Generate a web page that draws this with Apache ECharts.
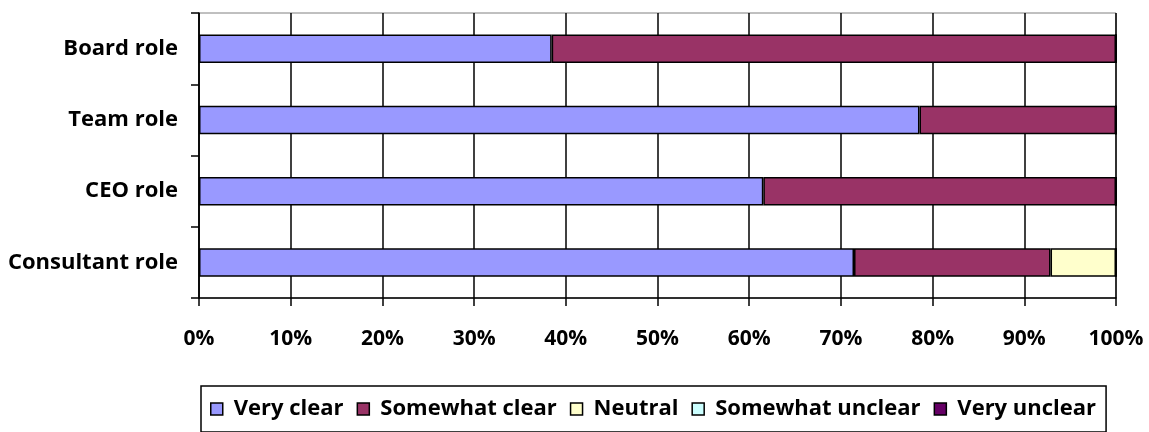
<!DOCTYPE html>
<html><head><meta charset="utf-8">
<script src="https://cdn.jsdelivr.net/npm/echarts@6/dist/echarts.min.js"></script>
<style>html,body{margin:0;padding:0;background:#fff}#c{width:1149px;height:432px}</style>
</head><body><div id="c"></div>
<script>
const categories = ['Consultant role', 'CEO role', 'Team role', 'Board role'];
const veryClear = [71.43, 61.54, 78.57, 38.46];
const somewhatClear = [21.43, 38.46, 21.43, 61.54];
const neutral = [7.14, 0, 0, 0];
const somewhatUnclear = [0, 0, 0, 0];
const veryUnclear = [0, 0, 0, 0];
const seriesNames = ['Very clear', 'Somewhat clear', 'Neutral', 'Somewhat unclear', 'Very unclear'];
const seriesData = [veryClear, somewhatClear, neutral, somewhatUnclear, veryUnclear];
const colors = ['#9999FF', '#993366', '#FFFFCC', '#CCFFFF', '#660066'];
const FONT = '"Open Sans"';

const chart = echarts.init(document.getElementById('c'), null, {renderer: 'canvas'});
chart.setOption({
  animation: false,
  grid: {left: 199, right: 33, top: 13, bottom: 134, show: true, borderColor: '#808080', borderWidth: 1, backgroundColor: 'transparent'},
  xAxis: {
    type: 'value', min: 0, max: 100, interval: 10,
    axisLine: {show: true, lineStyle: {color: '#000', width: 1.5}},
    axisTick: {show: true, length: 8, lineStyle: {color: '#000', width: 1.5}},
    splitLine: {show: true, lineStyle: {color: '#000', width: 1.5}},
    axisLabel: {formatter: '{value}%', color: '#000', fontFamily: FONT, fontWeight: 700, fontSize: 21, margin: 31}
  },
  yAxis: {
    type: 'category', data: categories,
    axisLine: {show: true, lineStyle: {color: '#000', width: 1.5}},
    axisTick: {show: true, length: 8, alignWithLabel: false, lineStyle: {color: '#000', width: 1.5}},
    splitLine: {show: false},
    axisLabel: {color: '#000', fontFamily: FONT, fontWeight: 700, fontSize: 22, margin: 21}
  },
  legend: {
    data: seriesNames,
    left: 201, top: 386,
    padding: [12, 10, 12, 9],
    borderColor: '#000', borderWidth: 1.5,
    itemWidth: 12, itemHeight: 12, itemGap: 13,
    icon: 'rect',
    textStyle: {color: '#000', fontFamily: FONT, fontWeight: 700, fontSize: 22, padding: [0, 0, 0, 6]},
    itemStyle: {borderColor: '#000', borderWidth: 1.5}
  },
  series: seriesNames.map((n, i) => ({
    name: n, type: 'bar', stack: 'total', data: seriesData[i],
    barCategoryGap: '60%',
    itemStyle: {color: colors[i], borderColor: '#000', borderWidth: 1.5}
  }))
});
</script></body></html>
